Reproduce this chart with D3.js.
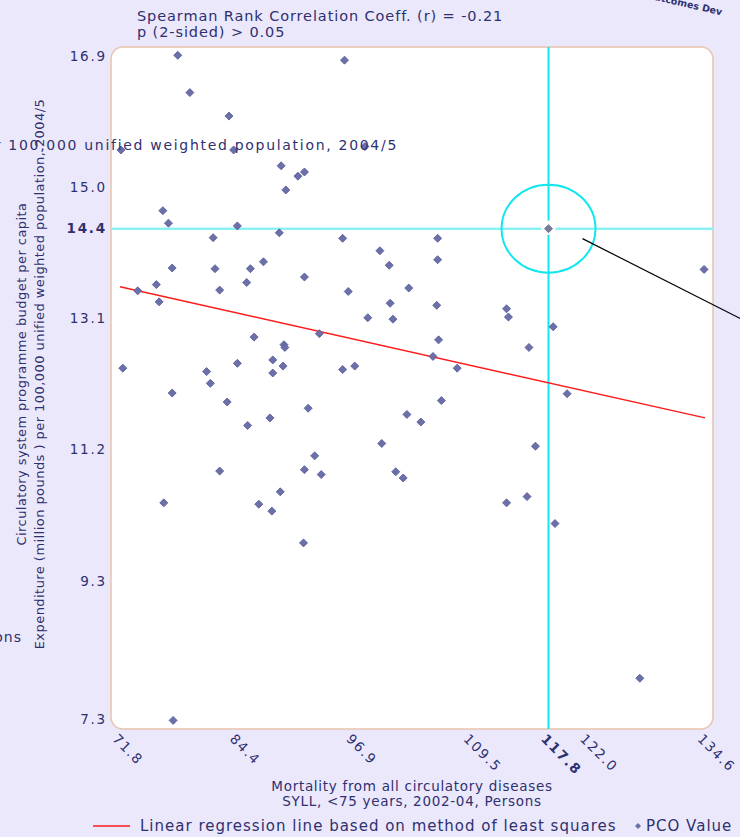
<!DOCTYPE html>
<html>
<head>
<meta charset="utf-8">
<script src="https://cdn.jsdelivr.net/npm/d3@7/dist/d3.min.js"></script>
<style>
  html, body { margin: 0; padding: 0; background: #ebe8fb; }
  svg { display: block; }
  text { font-family: "DejaVu Sans", Verdana, sans-serif; fill: #2f3070; }
</style>
</head>
<body>
<svg id="chart" width="740" height="837"></svg>
<script>
// ---- data ----
const titleLines = ["Spearman Rank Correlation Coeff. (r) = -0.21", "p (2-sided) > 0.05"];
const xTitleLines = ["Mortality from all circulatory diseases", "SYLL, <75 years, 2002-04, Persons"];
const yTitleLines = ["Circulatory system programme budget per capita",
                     "Expenditure (million pounds ) per 100,000 unified weighted population, 2004/5"];
const xTickVals = [71.8, 84.4, 96.9, 109.5, 122.0, 134.6];
const yTickVals = [7.3, 9.3, 11.2, 13.1, 15.0, 16.9];
const highlightX = 117.8;
const highlightY = 14.4;
const regX = [71.8, 134.6];
const regY = [13.56, 11.66];
const mortality = [
  78.0, 95.9, 79.3, 83.5, 71.9, 84.0, 98.1, 89.1, 90.9, 91.6,
  89.6, 76.4, 77.0, 84.4, 88.9, 81.8, 95.7, 99.7, 100.7, 77.4,
  82.0, 85.8, 87.2, 91.6, 85.4, 75.7, 73.7, 82.5, 96.3, 102.8,
  76.0, 100.8, 98.4, 101.1, 86.2, 89.4, 89.5, 93.2, 72.1, 81.1,
  84.4, 88.2, 88.2, 89.3, 95.7, 97.0, 81.5, 77.4, 83.3, 87.9,
  85.5, 92.0, 102.6, 104.1, 99.9, 92.7, 91.6, 93.4, 82.5, 101.4,
  102.2, 76.5, 86.7, 89.0, 88.1, 91.5, 77.5, 105.9, 105.9, 105.8,
  113.3, 113.5, 118.3, 106.0, 115.7, 105.4, 108.0, 134.5, 119.8, 106.3,
  116.4, 113.3, 115.5, 118.5, 127.6
];
const expenditure = [
  16.91, 16.84, 16.37, 16.03, 15.54, 15.54, 15.59, 15.31, 15.16, 15.22,
  14.96, 14.66, 14.48, 14.44, 14.34, 14.27, 14.26, 14.08, 13.87, 13.83,
  13.82, 13.82, 13.92, 13.70, 13.62, 13.59, 13.50, 13.51, 13.49, 13.54,
  13.34, 13.32, 13.11, 13.09, 12.83, 12.72, 12.68, 12.88, 12.38, 12.33,
  12.45, 12.50, 12.31, 12.41, 12.36, 12.41, 12.16, 12.02, 11.89, 11.66,
  11.55, 11.80, 11.71, 11.60, 11.29, 11.11, 10.91, 10.84, 10.89, 10.88,
  10.79, 10.43, 10.41, 10.59, 10.31, 9.85, 7.28, 14.26, 13.95, 13.29,
  13.24, 13.12, 12.98, 12.79, 12.68, 12.55, 12.38, 13.81, 12.01, 11.91,
  11.25, 10.43, 10.52, 10.13, 7.89
];
const legendLine = "Linear regression line based on method of least squares";
const legendPoint = "PCO Value";
const logoText = "Outcomes Dev";

// ---- layout ----
const svg = d3.select("#chart");
const plot = {left: 111, top: 47, right: 713, bottom: 729};
const x = d3.scaleLinear().domain([71.8, 134.6]).range([120, 705]);
const y = d3.scaleLinear().domain([7.3, 16.9]).range([719, 56]);
const fmt = d3.format(".1f");

// logo fragment top right
svg.append("text").attr("transform", "translate(646,-2) rotate(13)")
  .attr("font-size", 9.5).attr("font-weight", "bold").attr("fill", "#262866").text(logoText);

// titles
svg.selectAll("text.title").data(titleLines).join("text")
  .attr("class", "title").attr("x", 137).attr("y", (d, i) => 21 + i * 16)
  .attr("font-size", 14.5).attr("letter-spacing", 0.9).text(d => d);

// y axis title (rotated)
svg.selectAll("text.ytitle").data(yTitleLines).join("text")
  .attr("class", "ytitle")
  .attr("transform", (d, i) => `translate(${26 + i * 18},374) rotate(-90)`)
  .attr("text-anchor", "middle").attr("font-size", 13).attr("letter-spacing", 0.45).text(d => d);

// clipped horizontal artefact at left (x title)
svg.append("text").attr("x", 22).attr("y", 642).attr("text-anchor", "end")
  .attr("font-size", 14).attr("letter-spacing", 1).text(xTitleLines[1]);

// plot background
svg.append("rect").attr("x", plot.left).attr("y", plot.top)
  .attr("width", plot.right - plot.left).attr("height", plot.bottom - plot.top)
  .attr("rx", 12).attr("ry", 12)
  .attr("fill", "#ffffff").attr("stroke", "#e8c4ad").attr("stroke-width", 1.5);

// axes
const yAxis = svg.append("g").attr("transform", `translate(${plot.left - 1},0)`)
  .call(d3.axisLeft(y).tickValues(yTickVals.concat([highlightY])).tickSize(0).tickPadding(3).tickFormat(fmt));
yAxis.select(".domain").remove();
yAxis.selectAll("text").attr("font-size", 13.5).attr("letter-spacing", 1.8)
  .attr("fill", d => d === highlightY ? "#1d1f55" : "#3a3b72")
  .attr("font-weight", d => d === highlightY ? "bold" : "normal");

const xAxis = svg.append("g").attr("transform", `translate(0,${plot.bottom})`)
  .call(d3.axisBottom(x).tickValues(xTickVals.concat([highlightX])).tickSize(0).tickFormat(fmt));
xAxis.select(".domain").remove();
xAxis.selectAll("text")
  .attr("text-anchor", "start").attr("dy", null).attr("y", null)
  .attr("transform", "translate(-6,8) rotate(45)")
  .attr("dominant-baseline", "middle")
  .attr("font-size", 13.5).attr("letter-spacing", 1.6)
  .attr("fill", d => d === highlightX ? "#1d1f55" : "#3a3b72")
  .attr("font-weight", d => d === highlightX ? "bold" : "normal");

// x axis title
svg.selectAll("text.xtitle").data(xTitleLines).join("text")
  .attr("class", "xtitle").attr("x", 412).attr("y", (d, i) => 791 + i * 15)
  .attr("text-anchor", "middle").attr("font-size", 13.5).attr("letter-spacing", 0.7).text(d => d);

// crosshair
const hx = x(highlightX), hy = y(highlightY);
const cyan = "#12e6ee";
svg.append("line").attr("x1", plot.left).attr("x2", hx - 7).attr("y1", hy).attr("y2", hy)
  .attr("stroke", "#8cf1f4").attr("stroke-width", 2.5);
svg.append("line").attr("x1", hx + 7).attr("x2", plot.right).attr("y1", hy).attr("y2", hy)
  .attr("stroke", "#8cf1f4").attr("stroke-width", 2.5);
svg.append("line").attr("x1", hx).attr("x2", hx).attr("y1", plot.top).attr("y2", hy - 8)
  .attr("stroke", cyan).attr("stroke-width", 2);
svg.append("line").attr("x1", hx).attr("x2", hx).attr("y1", hy + 6).attr("y2", plot.bottom)
  .attr("stroke", cyan).attr("stroke-width", 2);
svg.append("ellipse").attr("cx", hx).attr("cy", hy).attr("rx", 47).attr("ry", 44)
  .attr("fill", "none").attr("stroke", cyan).attr("stroke-width", 2);

// regression line
svg.append("line")
  .attr("x1", x(regX[0])).attr("y1", y(regY[0]))
  .attr("x2", x(regX[1])).attr("y2", y(regY[1]))
  .attr("stroke", "#ff1a1a").attr("stroke-width", 1.5);

// points
const diamond = d3.symbol().type(d3.symbolSquare).size(32);
const pts = mortality.map((m, i) => ({m, e: expenditure[i]}));
svg.append("g").selectAll("path").data(pts).join("path")
  .attr("d", diamond)
  .attr("transform", d => `translate(${x(d.m)},${y(d.e)}) rotate(45)`)
  .attr("fill", "#6c70a8").attr("stroke", "#575b98").attr("stroke-width", 0.8);

// highlighted point
svg.append("path").attr("d", diamond)
  .attr("transform", `translate(${hx},${hy}) rotate(45)`)
  .attr("fill", "#7a7a9c").attr("stroke", "#66668a").attr("stroke-width", 0.8);

// clipped horizontal artefact (y title) drawn over the plot, as in the original
svg.append("text").attr("x", 398).attr("y", 150).attr("text-anchor", "end")
  .attr("font-size", 14).attr("letter-spacing", 1.7).text(yTitleLines[1]);

// callout line
svg.append("line").attr("x1", hx + 34).attr("y1", hy + 10)
  .attr("x2", hx + 200).attr("y2", hy + 94)
  .attr("stroke", "#000000").attr("stroke-width", 1.2);

// legend
svg.append("line").attr("x1", 93).attr("x2", 130).attr("y1", 826).attr("y2", 826)
  .attr("stroke", "#ff1a1a").attr("stroke-width", 1.5);
svg.append("text").attr("x", 140).attr("y", 831).attr("font-size", 15).attr("letter-spacing", 1).text(legendLine);
svg.append("path").attr("d", d3.symbol().type(d3.symbolSquare).size(18))
  .attr("transform", "translate(638,826) rotate(45)").attr("fill", "#6c70a8");
svg.append("text").attr("x", 646).attr("y", 831).attr("font-size", 15).attr("letter-spacing", 1).text(legendPoint);
</script>
</body>
</html>
